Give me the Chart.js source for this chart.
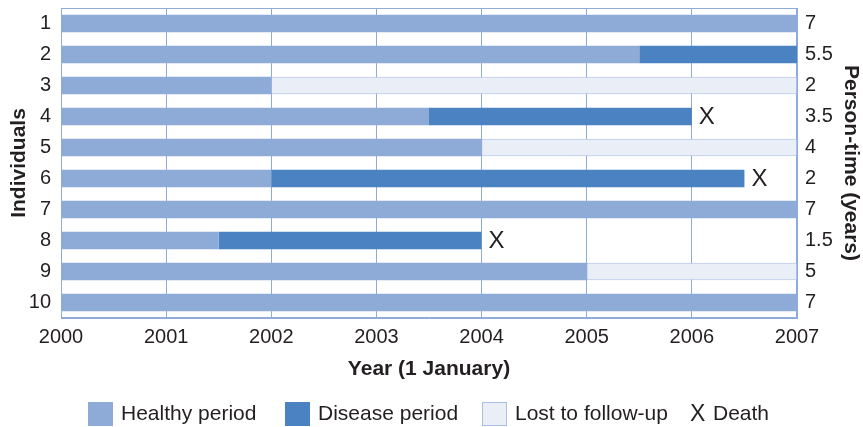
<!DOCTYPE html>
<html>
<head>
<meta charset="utf-8">
<script src="https://cdn.jsdelivr.net/npm/chart.js@4"></script>
<style>
  html, body { margin: 0; padding: 0; background: #fff; }
  #wrap { width: 863px; height: 427px; position: relative; }
</style>
</head>
<body>
<div id="wrap"><canvas id="chart"></canvas></div>
<script>
// data
const individuals = ['1', '2', '3', '4', '5', '6', '7', '8', '9', '10'];
const personTime = ['7', '5.5', '2', '3.5', '4', '2', '7', '1.5', '5', '7'];
const startYear = 2000;
const healthyEnd = [2007, 2005.5, 2002, 2003.5, 2004, 2002, 2007, 2001.5, 2005, 2007];
const diseaseEnd = [null, 2007, null, 2006, null, 2006.5, null, 2004, null, null];
const lostEnd = [null, null, 2007, null, 2007, null, null, null, 2007, null];
const deathYear = [null, null, null, 2006, null, 2006.5, null, 2004, null, null];

const FONT = '"Liberation Sans", Arial, Helvetica, sans-serif';
const TXT = '#231f20';
const GRID = '#8fabdc';
const cHealthy = '#8eabd8';
const cDisease = '#4a82c2';
const cLost = '#e9eef7';

Chart.defaults.font.family = FONT;
Chart.defaults.color = TXT;

// floating bars: [from, to]
const healthyBars = healthyEnd.map(e => [startYear, e]);
const diseaseBars = diseaseEnd.map((e, i) => e === null ? null : [healthyEnd[i], e]);
const lostBars = lostEnd.map((e, i) => e === null ? null : [healthyEnd[i], e]);

const extras = {
  id: 'extras',
  beforeDatasetsDraw(chart) {
    const { ctx, chartArea: a } = chart;
    ctx.save();
    ctx.strokeStyle = GRID;
    ctx.lineWidth = 1;
    ctx.strokeRect(a.left + 0.5, a.top + 0.5, a.right - a.left - 1, a.bottom - a.top - 1);
    ctx.restore();
  },
  afterDatasetsDraw(chart) {
    const { ctx } = chart;
    const xs = chart.scales.x, ys = chart.scales.y;
    ctx.save();
    // death markers
    ctx.fillStyle = TXT;
    ctx.font = '24px ' + FONT;
    ctx.textAlign = 'left';
    ctx.textBaseline = 'middle';
    deathYear.forEach((d, i) => {
      if (d === null) return;
      ctx.fillText('X', xs.getPixelForValue(d) + 7, ys.getPixelForValue(i) + 1);
    });
    // legend
    const ly = 414;
    const items = [
      { type: 'box', color: cHealthy, border: cHealthy, label: 'Healthy period', x: 88 },
      { type: 'box', color: cDisease, border: cDisease, label: 'Disease period', x: 285 },
      { type: 'box', color: cLost, border: '#a9bfe4', label: 'Lost to follow-up', x: 482 },
      { type: 'x', label: 'Death', x: 690 }
    ];
    items.forEach(it => {
      ctx.fillStyle = TXT;
      if (it.type === 'box') {
        ctx.fillStyle = it.color;
        ctx.fillRect(it.x, ly - 12, 25, 24);
        ctx.strokeStyle = it.border;
        ctx.strokeRect(it.x + 0.5, ly - 11.5, 24, 23);
        ctx.fillStyle = TXT;
        ctx.font = '21px ' + FONT;
        ctx.fillText(it.label, it.x + 33, ly);
      } else {
        ctx.font = '23px ' + FONT;
        ctx.fillText('X', it.x, ly + 1);
        ctx.font = '21px ' + FONT;
        ctx.fillText(it.label, it.x + 23, ly);
      }
    });
    ctx.restore();
  }
};

new Chart(document.getElementById('chart'), {
  type: 'bar',
  data: {
    labels: individuals,
    datasets: [
      { label: 'Healthy period', data: healthyBars, backgroundColor: cHealthy, grouped: false },
      { label: 'Disease period', data: diseaseBars, backgroundColor: cDisease, grouped: false },
      { label: 'Lost to follow-up', data: lostBars, backgroundColor: cLost, borderColor: '#a9bfe4', borderWidth: 1, borderSkipped: false, grouped: false }
    ]
  },
  options: {
    indexAxis: 'y',
    responsive: true,
    maintainAspectRatio: false,
    animation: false,
    layout: { padding: { top: 8, left: 0, right: 0, bottom: 0 } },
    datasets: { bar: { barPercentage: 0.56, categoryPercentage: 1 } },
    plugins: { legend: { display: false }, tooltip: { enabled: false } },
    scales: {
      x: {
        type: 'linear',
        min: 2000,
        max: 2007,
        ticks: { stepSize: 1, font: { size: 20 }, color: TXT, padding: 7, callback: v => String(v) },
        grid: { color: GRID, drawTicks: false },
        border: { color: GRID },
        title: { display: true, text: 'Year (1 January)', font: { size: 21, weight: 'bold' }, color: TXT, padding: { top: 4, bottom: 45 } },
        afterFit(s) { s.height = 109; s.paddingLeft = 0; s.paddingRight = 0; }
      },
      y: {
        position: 'left',
        ticks: { font: { size: 20 }, color: TXT, padding: 10 },
        grid: { display: false, drawTicks: false },
        border: { color: GRID },
        title: { display: true, text: 'Individuals', font: { size: 21, weight: 'bold' }, color: TXT, padding: { top: 7, bottom: 0 } },
        afterFit(s) { s.width = 61; s.paddingTop = 0; s.paddingBottom = 0; }
      },
      y2: {
        type: 'category',
        position: 'right',
        labels: personTime,
        offset: true,
        ticks: { font: { size: 20 }, color: TXT, padding: 8 },
        grid: { display: false, drawTicks: false },
        border: { color: GRID },
        title: { display: true, text: 'Person-time (years)', font: { size: 21, weight: 'bold' }, color: TXT, padding: { top: 0, bottom: 2 } },
        afterFit(s) { s.width = 66; s.paddingTop = 0; s.paddingBottom = 0; }
      }
    }
  },
  plugins: [extras]
});
</script>
</body>
</html>
